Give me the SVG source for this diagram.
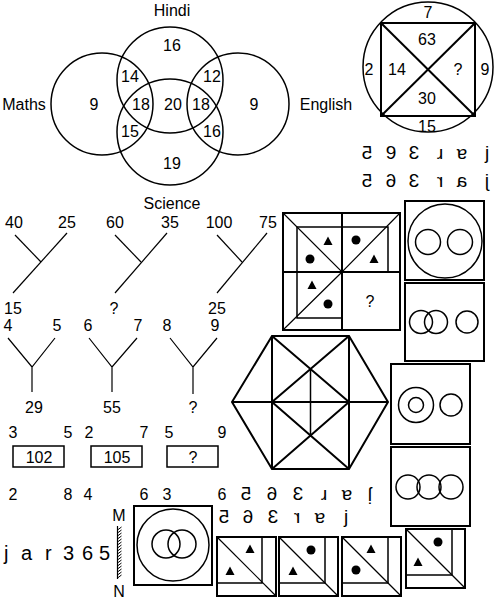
<svg xmlns="http://www.w3.org/2000/svg" width="498" height="599" viewBox="0 0 498 599">
<style>
text{font-family:"Liberation Sans",Arial,sans-serif;fill:#000}
.n{font-size:16px;text-anchor:middle}
.m{font-size:16px;text-anchor:middle}
.g{font-size:19px;text-anchor:middle}
.s{fill:none;stroke:#000;stroke-width:1.5}
.b{fill:none;stroke:#000;stroke-width:2}
.t{fill:none;stroke:#000;stroke-width:1.2}
.f{fill:#000}
</style>
<defs>
<path id="tri" d="M-4.5,4 L4.5,4 L0,-4.5 Z"/>
</defs>
<rect width="498" height="599" fill="#fff"/>

<g id="venn">
<circle class="s" cx="102" cy="104" r="51"/>
<circle class="s" cx="238" cy="104" r="51"/>
<circle class="s" cx="170" cy="80" r="53"/>
<circle class="s" cx="170" cy="132" r="53"/>
<text class="m" x="172" y="16">Hindi</text>
<text class="m" x="24" y="110">Maths</text>
<text class="m" x="326" y="110">English</text>
<text class="m" x="172" y="209">Science</text>
<text class="n" x="172" y="51">16</text>
<text class="n" x="130" y="82">14</text>
<text class="n" x="212" y="82">12</text>
<text class="n" x="94" y="110">9</text>
<text class="n" x="141" y="110">18</text>
<text class="n" x="173" y="110">20</text>
<text class="n" x="201" y="110">18</text>
<text class="n" x="254" y="110">9</text>
<text class="n" x="130" y="137">15</text>
<text class="n" x="212" y="137">16</text>
<text class="n" x="172" y="169">19</text>
</g>

<g id="circle-square">
<circle class="s" cx="428" cy="67" r="65"/>
<rect class="b" x="381" y="23" width="94" height="93"/>
<line class="b" x1="381" y1="23" x2="475" y2="116"/>
<line class="b" x1="475" y1="23" x2="381" y2="116"/>
<text class="n" x="428" y="18">7</text>
<text class="n" x="427" y="45">63</text>
<text class="n" x="397" y="75">14</text>
<text class="m" x="458" y="75">?</text>
<text class="n" x="369" y="75">2</text>
<text class="n" x="485" y="75">9</text>
<text class="n" x="427" y="104">30</text>
<text class="n" x="427" y="132">15</text>
</g>

<g id="mirror-opt-1">
<text class="g" transform="translate(367,159) scale(-1,1)">5</text>
<text class="g" x="391" y="159">9</text>
<text class="g" transform="translate(414,159) scale(-1,1)">3</text>
<text class="g" transform="translate(440,154.1) rotate(180)" y="4.9">r</text>
<text class="g" transform="translate(462,154.1) rotate(180)" y="4.9">a</text>
<text class="g" x="487" y="159">j</text>
</g>
<g id="mirror-opt-2">
<text class="g" transform="translate(367,187) scale(-1,1)">5</text>
<text class="g" transform="translate(391,187) scale(-1,1)">6</text>
<text class="g" transform="translate(414,187) scale(-1,1)">3</text>
<text class="g" transform="translate(440,187) scale(-1,1)">r</text>
<text class="g" transform="translate(462,187) scale(-1,1)">a</text>
<text class="g" transform="translate(487,187) scale(-1,1)">j</text>
</g>

<g id="trees-1">
<text class="m" x="14" y="228">40</text>
<text class="m" x="67" y="228">25</text>
<text class="m" x="13" y="314">15</text>
<line class="t" x1="15" y1="235" x2="41" y2="262"/>
<line class="t" x1="67" y1="233" x2="13" y2="293"/>
<text class="m" x="115" y="228">60</text>
<text class="m" x="170" y="228">35</text>
<text class="m" x="114" y="314">?</text>
<line class="t" x1="115" y1="235" x2="141" y2="262"/>
<line class="t" x1="167" y1="233" x2="115" y2="293"/>
<text class="m" x="219" y="228">100</text>
<text class="m" x="268" y="228">75</text>
<text class="m" x="217" y="314">25</text>
<line class="t" x1="217" y1="235" x2="242" y2="262"/>
<line class="t" x1="267" y1="233" x2="217" y2="293"/>
</g>

<g id="trees-2">
<text class="n" x="8" y="331">4</text>
<text class="n" x="57" y="331">5</text>
<path class="t" d="M8,338 L32,367 L55,338 M32,367 L32,392"/>
<text class="n" x="34" y="413">29</text>
<text class="n" x="88" y="331">6</text>
<text class="n" x="138" y="331">7</text>
<path class="t" d="M89,338 L112,367 L137,338 M112,367 L112,392"/>
<text class="n" x="112" y="413">55</text>
<text class="n" x="167" y="331">8</text>
<text class="n" x="215" y="331">9</text>
<path class="t" d="M170,338 L193,367 L217,338 M193,367 L193,394"/>
<text class="n" x="193" y="413">?</text>
</g>

<g id="grid">
<rect class="b" x="283" y="213" width="117" height="117"/>
<line class="b" x1="342" y1="213" x2="342" y2="330"/>
<line class="b" x1="283" y1="272" x2="400" y2="272"/>
<path class="s" d="M297,272 L297,227 L388,227 L388,272 M297,272 L297,318 L342,318"/>
<path class="t" d="M283,213 L342,272 L400,213 M283,330 L342,272"/>
<use href="#tri" class="f" x="328" y="241"/>
<circle class="f" cx="310" cy="259" r="4.5"/>
<circle class="f" cx="356" cy="240" r="4.5"/>
<use href="#tri" class="f" x="374" y="259"/>
<use href="#tri" class="f" x="312" y="285"/>
<circle class="f" cx="328" cy="304" r="4.5"/>
<text class="m" x="370" y="307">?</text>
</g>

<g id="box-1">
<rect class="b" x="405" y="201" width="79" height="79"/>
<circle class="s" cx="445" cy="241" r="37"/>
<circle class="s" cx="428" cy="242" r="12.5"/>
<circle class="s" cx="460" cy="242" r="12.5"/>
</g>
<g id="box-2">
<rect class="b" x="405" y="283" width="79" height="78"/>
<circle class="s" cx="421" cy="322" r="11.5"/>
<circle class="s" cx="436" cy="322" r="11.5"/>
<circle class="s" cx="467" cy="322" r="11"/>
</g>

<g id="hexagon">
<polygon class="b" points="232,402 272,336 349,336 388,402 349,469 272,469"/>
<path class="b" d="M272,336 L272,469 M349,336 L349,469 M232,402 L388,402 M272,336 L349,402 L272,469 M349,336 L272,402 L349,469"/>
<line class="s" x1="310.5" y1="369" x2="310.5" y2="435.5"/>
</g>

<g id="box-3">
<rect class="b" x="391" y="364" width="79" height="80"/>
<circle class="s" cx="416" cy="405" r="17.5"/>
<circle class="s" cx="416" cy="405" r="7.5"/>
<circle class="s" cx="451" cy="405" r="11"/>
</g>
<g id="box-4">
<rect class="b" x="391" y="447" width="79" height="79"/>
<circle class="s" cx="408" cy="487" r="12"/>
<circle class="s" cx="429" cy="487" r="12"/>
<circle class="s" cx="451" cy="487" r="12"/>
</g>

<g id="num-box-1">
<rect class="s" x="13" y="446" width="51" height="21"/>
<text class="m" x="39" y="463">102</text>
<text class="m" x="13" y="438">3</text>
<text class="m" x="68" y="438">5</text>
<text class="m" x="13" y="500">2</text>
<text class="m" x="68" y="500">8</text>
</g>
<g id="num-box-2">
<rect class="s" x="91" y="446" width="51" height="21"/>
<text class="m" x="117" y="463">105</text>
<text class="m" x="89" y="438">2</text>
<text class="m" x="144" y="438">7</text>
<text class="m" x="88" y="500">4</text>
<text class="m" x="144" y="500">6</text>
</g>
<g id="num-box-3">
<rect class="s" x="167" y="446" width="51" height="21"/>
<text class="m" x="193" y="463">?</text>
<text class="m" x="169" y="438">5</text>
<text class="m" x="222" y="438">9</text>
<text class="m" x="167" y="500">3</text>
<text class="m" x="222" y="500">6</text>
</g>

<g id="mirror-opt-3">
<text class="g" transform="translate(246,500) scale(-1,1)">5</text>
<text class="g" transform="translate(272,500) scale(-1,1)">6</text>
<text class="g" transform="translate(298,500) scale(-1,1)">3</text>
<text class="g" transform="translate(324,495.1) rotate(180)" y="4.9">r</text>
<text class="g" transform="translate(347,495.1) rotate(180)" y="4.9">a</text>
<text class="g" transform="translate(370,495.5) rotate(180)" y="4.5">j</text>
</g>
<g id="mirror-opt-4">
<text class="g" transform="translate(224,523) scale(-1,1)">5</text>
<text class="g" transform="translate(248,523) scale(-1,1)">6</text>
<text class="g" transform="translate(273,523) scale(-1,1)">3</text>
<text class="g" transform="translate(297,523) scale(-1,1)">r</text>
<text class="g" transform="translate(320,518.1) rotate(180)" y="4.9">a</text>
<text class="g" x="346" y="523">j</text>
</g>

<g id="question-word">
<text x="4" y="560" style="font-size:20px"><tspan x="4">j</tspan><tspan x="21">a</tspan><tspan x="45">r</tspan><tspan x="63">3</tspan><tspan x="82">6</tspan><tspan x="99">5</tspan></text>
</g>
<g id="mirror-mn">
<text class="m" x="119" y="521">M</text>
<text class="m" x="119" y="597">N</text>
<line x1="117.5" y1="526" x2="117.5" y2="579" stroke="#000" stroke-width="1.2"/>
<path d="M117.5,530 l4,-3 M117.5,533 l4,-3 M117.5,536 l4,-3 M117.5,539 l4,-3 M117.5,542 l4,-3 M117.5,545 l4,-3 M117.5,548 l4,-3 M117.5,551 l4,-3 M117.5,554 l4,-3 M117.5,557 l4,-3 M117.5,560 l4,-3 M117.5,563 l4,-3 M117.5,566 l4,-3 M117.5,569 l4,-3 M117.5,572 l4,-3 M117.5,575 l4,-3 M117.5,578 l4,-3" stroke="#000" stroke-width="1"/>
</g>
<g id="big-square">
<rect class="b" x="134" y="506" width="78" height="79"/>
<circle class="s" cx="173" cy="545" r="36"/>
<circle class="s" cx="166" cy="544" r="14"/>
<circle class="s" cx="182" cy="544" r="14"/>
</g>

<g id="tile-1">
<rect class="b" x="217" y="537" width="59" height="59"/>
<path class="s" d="M262,537 L262,583 L217,583"/>
<line class="t" x1="217" y1="537" x2="276" y2="596"/>
<use href="#tri" class="f" x="250" y="549"/>
<use href="#tri" class="f" x="230" y="571"/>
</g>
<g id="tile-2">
<rect class="b" x="279" y="537" width="59" height="59"/>
<path class="s" d="M325,537 L325,583 L279,583"/>
<line class="t" x1="279" y1="537" x2="338" y2="596"/>
<circle class="f" cx="311" cy="550" r="4.5"/>
<use href="#tri" class="f" x="293" y="571"/>
</g>
<g id="tile-3">
<rect class="b" x="342" y="537" width="59" height="59"/>
<path class="s" d="M388,537 L388,583 L342,583"/>
<line class="t" x1="342" y1="537" x2="401" y2="596"/>
<use href="#tri" class="f" x="371" y="549"/>
<circle class="f" cx="356" cy="570" r="4.5"/>
</g>
<g id="tile-4">
<rect class="b" x="406" y="529" width="59" height="59"/>
<path class="s" d="M452,529 L452,575 L406,575"/>
<line class="t" x1="406" y1="529" x2="465" y2="588"/>
<circle class="f" cx="438" cy="542" r="4.5"/>
<use href="#tri" class="f" x="418" y="562"/>
</g>
</svg>
